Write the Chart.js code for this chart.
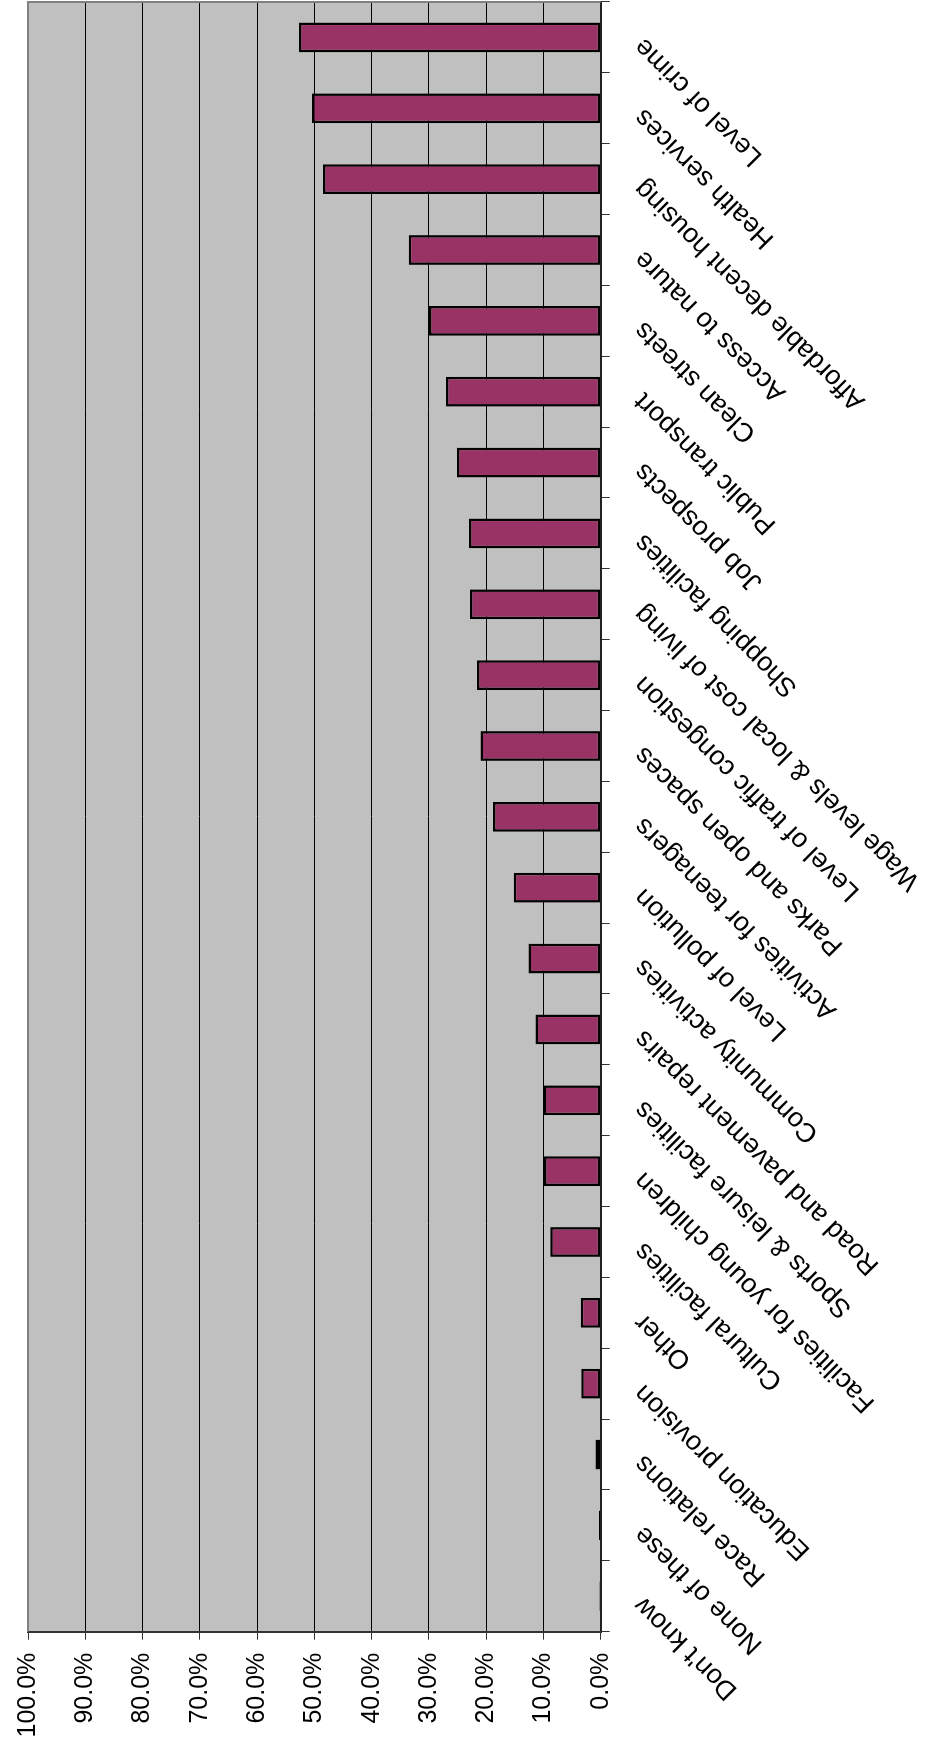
<!DOCTYPE html>
<html>
<head>
<meta charset="utf-8">
<script src="https://cdn.jsdelivr.net/npm/chart.js@4/dist/chart.umd.min.js"></script>
<style>
  html, body { margin: 0; padding: 0; background: #fff; overflow: hidden; }
  body { width: 926px; height: 1753px; position: relative; }
  /* chart is drawn as a 1753x926 column chart, then turned a quarter turn */
  #wrap {
    position: absolute; left: 0; top: 0;
    width: 1753px; height: 926px;
    transform-origin: 0 0;
    transform: translate(0, 1753px) rotate(-90deg);
  }
</style>
</head>
<body>
<div id="wrap"><canvas id="chart" width="1753" height="926"></canvas></div>
<script>
// categories, listed as they appear from top to bottom of the picture
const categories = [
    'Level of crime', 'Health services', 'Affordable decent housing', 'Access to nature',
    'Clean streets', 'Public transport', 'Job prospects', 'Shopping facilities',
    'Wage levels & local cost of living', 'Level of traffic congestion', 'Parks and open spaces',
    'Activities for teenagers', 'Level of pollution', 'Community activities',
    'Road and pavement repairs', 'Sports & leisure facilities', 'Facilities for young children',
    'Cultural facilities', 'Other', 'Education provision', 'Race relations', 'None of these',
    "Don't know"
];
// percentage of respondents
const values = [
    52.7, 50.4, 48.5, 33.5,
    30.0, 27.0, 25.1, 23.0,
    22.8, 21.6, 21.0,
    18.8, 15.2, 12.6,
    11.4, 10.0, 9.9,
    8.8, 3.5, 3.4, 0.9, 0.3,
    0.2
];
const valueTicks = [0, 10, 20, 30, 40, 50, 60, 70, 80, 90, 100];

const FONT = '"Liberation Sans", Arial, sans-serif';

// grey plot area + grey frame like the old spreadsheet chart
const plotArea = {
    id: 'plotArea',
    beforeDraw(chart) {
        const a = chart.chartArea, ctx = chart.ctx;
        ctx.save();
        ctx.fillStyle = '#c0c0c0';
        ctx.fillRect(a.left, a.top, a.right - a.left, a.bottom - a.top);
        ctx.restore();
    },
    afterDatasetsDraw(chart) {
        const a = chart.chartArea, ctx = chart.ctx;
        ctx.save();
        ctx.strokeStyle = '#808080';
        ctx.lineWidth = 2;
        ctx.beginPath();
        ctx.moveTo(a.left, a.top);
        ctx.lineTo(a.right, a.top);
        ctx.lineTo(a.right, a.bottom);
        ctx.stroke();
        ctx.restore();
    }
};

const ctx = document.getElementById('chart').getContext('2d');
window.issuesChart = new Chart(ctx, {
    type: 'bar',
    data: {
        labels: categories,
        datasets: [{
            data: values,
            backgroundColor: '#993366',
            borderColor: '#000000',
            borderWidth: 2.5,
            borderSkipped: false,
            barPercentage: 0.42,
            categoryPercentage: 1.0
        }]
    },
    options: {
        responsive: false,
        devicePixelRatio: 1,
        animation: false,
        layout: { padding: { top: 23.5, right: 2, left: 0, bottom: 0 } },
        plugins: {
            legend: { display: false },
            tooltip: { enabled: false }
        },
        scales: {
            x: {
                reverse: true,
                offset: true,
                afterFit(scale) { scale.height = 325.3; },
                border: { display: true, color: '#222', width: 2 },
                grid: { offset: true, drawOnChartArea: false, tickLength: 9, tickColor: '#333', lineWidth: 1 },
                ticks: {
                    autoSkip: false,
                    minRotation: 45,
                    maxRotation: 45,
                    padding: 18,
                    labelOffset: -5,
                    color: '#000',
                    font: { family: FONT, size: 27 }
                }
            },
            y: {
                min: 0,
                max: 100,
                afterFit(scale) { scale.width = 121.3; },
                afterBuildTicks(scale) { scale.ticks = valueTicks.map(v => ({ value: v })); },
                border: { display: true, color: '#333', width: 2 },
                grid: { color: '#000', lineWidth: 1, tickLength: 8, tickColor: '#333' },
                ticks: {
                    padding: 13,
                    color: '#000',
                    font: { family: FONT, size: 25 },
                    callback: v => v.toFixed(1) + '%'
                }
            }
        }
    },
    plugins: [plotArea]
});
</script>
</body>
</html>
